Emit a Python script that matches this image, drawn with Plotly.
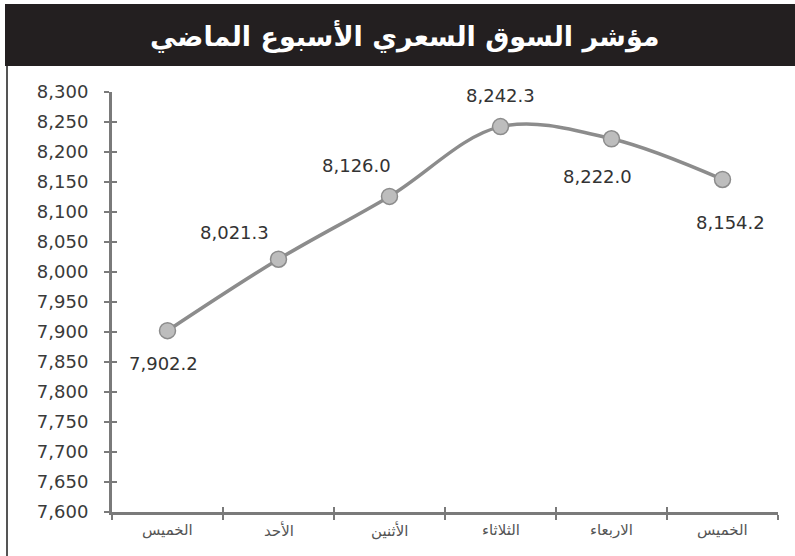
import plotly.graph_objects as go

title_text = "مؤشر السوق السعري الأسبوع الماضي"
days = ["الخميس", "الأحد", "الأثنين", "الثلاثاء", "الاربعاء", "الخميس"]
values = [7902.2, 8021.3, 8126.0, 8242.3, 8222.0, 8154.2]
value_labels = ["7,902.2", "8,021.3", "8,126.0", "8,242.3", "8,222.0", "8,154.2"]
y_ticks = list(range(7600, 8301, 50))

# label offsets (pixels) relative to each point
label_shift = [(-4, -33), (-44, 27), (-33, 31), (0, 31), (-14, -38), (8, -43)]

W, H = 795, 556
L, R, T, B = 112, 17, 92, 44
pw = W - L - R
ph = H - T - B

def px_x(p):
    return (p - L) / pw

def px_y(p):
    return 1 + (T - p) / ph

xs = list(range(len(days)))
axis_col = "#7a7a7a"
num_font = "DejaVu Sans"

fig = go.Figure()
fig.add_trace(go.Scatter(
    x=xs, y=values, mode="lines+markers",
    line=dict(color="#8c8c8c", width=3.5, shape="spline", smoothing=1.0),
    marker=dict(size=16, color="#bdbdbd", line=dict(color="#8c8c8c", width=1.5)),
    hoverinfo="skip", showlegend=False,
))
# invisible trace for overlay axes
fig.add_trace(go.Scatter(x=[xs[0]], y=[values[0]], xaxis="x2", yaxis="y2",
                         mode="markers", marker=dict(opacity=0), showlegend=False,
                         hoverinfo="skip"))

for i, (v, t) in enumerate(zip(values, value_labels)):
    dx, dy = label_shift[i]
    fig.add_annotation(x=xs[i], y=v, xref="x", yref="y", text=t, showarrow=False,
                       xshift=dx, yshift=dy, xanchor="center", yanchor="middle",
                       font=dict(family=num_font, size=18, color="#333333"))

for i, d in enumerate(days):
    fig.add_annotation(x=xs[i], y=px_y(530), xref="x", yref="paper", text=d,
                       showarrow=False, xanchor="center", yanchor="middle",
                       font=dict(family="DejaVu Sans", size=15, color="#555555"))

boundaries = [i - 0.5 for i in range(len(days) + 1)]
xr = [-0.5, len(days) - 0.5]
yr = [7600, 8300]

fig.update_layout(
    width=W, height=H,
    margin=dict(l=L, r=R, t=T, b=B),
    paper_bgcolor="white", plot_bgcolor="white",
    xaxis=dict(range=xr, tickvals=boundaries, ticktext=[""] * len(boundaries),
               ticks="outside", ticklen=5, tickwidth=2, tickcolor=axis_col,
               showline=True, linecolor=axis_col, linewidth=3,
               showgrid=False, zeroline=False, fixedrange=True),
    xaxis2=dict(range=xr, tickvals=boundaries, ticktext=[""] * len(boundaries),
                overlaying="x", side="bottom", anchor="y",
                ticks="inside", ticklen=5, tickwidth=2, tickcolor=axis_col,
                showline=False, showgrid=False, zeroline=False),
    yaxis=dict(range=yr, tickvals=y_ticks, tickformat=",d",
               ticks="outside", ticklen=5, tickwidth=2, tickcolor=axis_col,
               showline=True, linecolor=axis_col, linewidth=3,
               showgrid=False, zeroline=False, ticklabelstandoff=12,
               tickfont=dict(family=num_font, size=18, color="#3a3a3a")),
    yaxis2=dict(range=yr, tickvals=y_ticks, showticklabels=False,
                overlaying="y", side="left", anchor="x",
                ticks="inside", ticklen=5, tickwidth=2, tickcolor=axis_col,
                showline=False, showgrid=False, zeroline=False),
)

# title bar
fig.add_shape(type="rect", xref="paper", yref="paper",
              x0=px_x(5), x1=px_x(797), y0=px_y(66), y1=px_y(4),
              fillcolor="#231f20", line=dict(width=0), layer="above")
# left frame line
fig.add_shape(type="line", xref="paper", yref="paper",
              x0=px_x(7), x1=px_x(7), y0=px_y(66), y1=px_y(560),
              line=dict(color="#555555", width=2))
fig.add_annotation(x=px_x(405), y=px_y(36), xref="paper", yref="paper",
                   text="<b>" + title_text + "</b>", showarrow=False,
                   xanchor="center", yanchor="middle",
                   font=dict(family="DejaVu Sans", size=27, color="white"))

fig.write_html("out.html", post_script="document.body.style.margin='0px';",
               config={"displayModeBar": False})
